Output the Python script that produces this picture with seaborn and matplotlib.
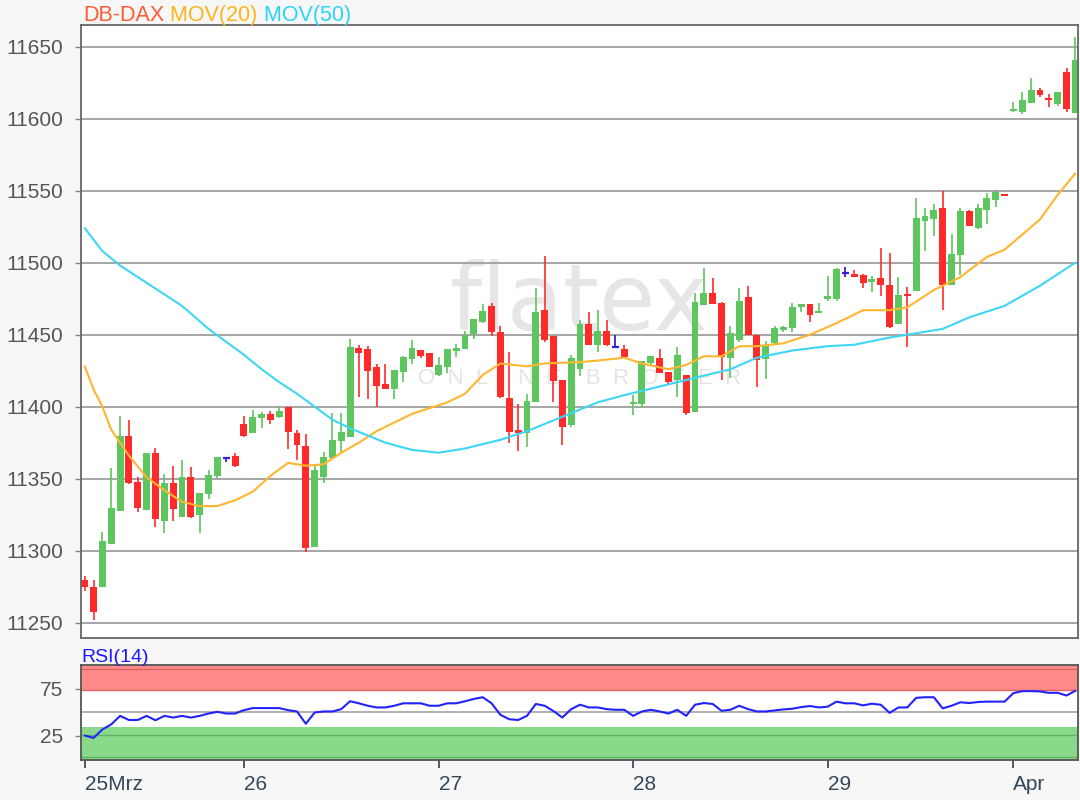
import numpy as np
import pandas as pd
import matplotlib
matplotlib.use('Agg')
import matplotlib.pyplot as plt
import seaborn as sns


###################################
# Data (one bar per entry, bar 0 = first bar on 25 Mar)
###################################
opens = [11279.6, 11275.0, 11274.5, 11305.0, 11327.5, 11379.6, 11347.9, 11328.2, 11368.1, 11320.8,
         11347.2, 11323.6, 11351.4, 11324.8, 11339.1, 11351.9, 11364.1, 11365.7, 11388.0, 11381.5,
         11392.0, 11395.0, 11392.6, 11399.5, 11381.5, 11372.7, 11302.4, 11351.4, 11364.2, 11376.2,
         11379.2, 11440.5, 11439.8, 11427.3, 11415.7, 11412.0, 11424.3, 11432.9, 11439.4, 11437.5,
         11422.0, 11427.8, 11438.9, 11439.8, 11450.5, 11459.0, 11469.9, 11452.1, 11405.8, 11383.8,
         11382.0, 11403.5, 11467.1, 11449.1, 11418.5, 11387.3, 11425.9, 11457.4, 11442.8, 11452.8,
         11441.7, 11439.8, 11401.6, 11401.9, 11430.1, 11433.6, 11424.3, 11418.5, 11422.0, 11396.5,
         11470.6, 11479.2, 11471.8, 11433.6, 11446.3, 11476.4, 11449.8, 11432.9, 11444.4, 11453.5,
         11454.4, 11469.0, 11471.3, 11465.3, 11474.5, 11474.5, 11493.0, 11492.1, 11491.4, 11486.8,
         11489.1, 11484.5, 11457.4, 11478.2, 11480.6, 11528.7, 11530.3, 11538.0, 11484.7, 11505.6,
         11535.6, 11524.3, 11536.8, 11543.8, 11547.7, 11605.1, 11604.6, 11611.1, 11619.7, 11613.9,
         11610.4, 11632.4, 11604.2]
highs = [11282.4, 11279.6, 11312.7, 11357.2, 11393.5, 11390.7, 11351.4, 11368.1, 11371.0, 11353.2,
         11358.8, 11363.0, 11358.3, 11340.3, 11356.0, 11365.3, 11364.3, 11367.6, 11393.8, 11397.7,
         11396.0, 11397.0, 11400.0, 11400.0, 11383.8, 11381.0, 11358.5, 11368.8, 11395.4, 11395.4,
         11446.8, 11442.8, 11442.1, 11429.6, 11429.6, 11425.5, 11435.2, 11446.3, 11439.4, 11437.5,
         11434.7, 11439.8, 11443.3, 11452.5, 11460.6, 11471.3, 11471.8, 11456.0, 11438.2, 11401.9,
         11408.8, 11482.2, 11504.6, 11449.1, 11418.5, 11435.9, 11460.2, 11466.0, 11467.1, 11460.2,
         11449.8, 11442.8, 11408.3, 11432.0, 11435.2, 11439.8, 11424.3, 11441.7, 11422.0, 11478.7,
         11496.1, 11489.1, 11472.9, 11456.0, 11482.2, 11483.8, 11449.8, 11445.8, 11456.0, 11456.0,
         11472.2, 11471.3, 11471.3, 11472.2, 11490.7, 11496.1, 11496.8, 11494.9, 11492.1, 11490.7,
         11510.0, 11507.0, 11490.3, 11483.3, 11544.7, 11538.0, 11541.0, 11549.5, 11520.1, 11538.0,
         11536.8, 11541.0, 11548.4, 11550.7, 11547.7, 11611.6, 11618.5, 11628.2, 11621.3, 11617.4,
         11618.5, 11635.2, 11656.9]
lows = [11272.2, 11251.9, 11274.5, 11305.0, 11327.5, 11346.3, 11327.1, 11328.2, 11316.2, 11312.5,
        11320.8, 11323.6, 11322.5, 11312.0, 11335.6, 11350.2, 11361.5, 11357.9, 11378.7, 11381.5,
        11385.0, 11388.0, 11392.0, 11370.4, 11363.0, 11299.3, 11302.4, 11346.8, 11364.2, 11367.6,
        11379.2, 11406.9, 11405.1, 11400.0, 11412.0, 11405.0, 11417.4, 11429.6, 11433.6, 11427.3,
        11421.3, 11423.1, 11434.3, 11439.8, 11446.8, 11458.3, 11449.1, 11405.8, 11375.0, 11369.4,
        11372.3, 11403.5, 11445.1, 11403.5, 11373.4, 11386.1, 11421.3, 11442.8, 11438.2, 11442.1,
        11441.7, 11434.3, 11394.4, 11398.8, 11429.0, 11423.1, 11415.7, 11406.9, 11394.2, 11396.5,
        11470.6, 11471.0, 11418.5, 11419.7, 11445.1, 11449.8, 11413.9, 11419.0, 11442.8, 11452.0,
        11452.1, 11466.0, 11459.0, 11464.8, 11473.6, 11473.6, 11489.8, 11490.3, 11482.2, 11479.9,
        11476.9, 11454.4, 11457.4, 11441.2, 11480.6, 11507.9, 11518.3, 11467.4, 11484.7, 11491.7,
        11525.2, 11523.6, 11526.6, 11538.4, 11546.1, 11604.6, 11603.5, 11611.1, 11615.0, 11608.1,
        11608.8, 11604.6, 11604.2]
closes = [11275.0, 11257.6, 11307.0, 11329.4, 11379.6, 11347.2, 11329.4, 11368.1, 11322.0, 11347.2,
          11328.7, 11351.4, 11323.6, 11340.3, 11352.5, 11365.3, 11364.1, 11358.8, 11379.6, 11393.0,
          11395.0, 11391.0, 11397.2, 11382.6, 11373.4, 11301.7, 11356.0, 11365.3, 11376.9, 11382.2,
          11441.7, 11437.0, 11425.0, 11414.4, 11412.0, 11425.5, 11434.3, 11440.5, 11435.2, 11427.8,
          11428.9, 11439.8, 11441.0, 11449.8, 11460.6, 11466.7, 11452.1, 11406.9, 11382.6, 11382.0,
          11404.2, 11466.0, 11446.3, 11418.1, 11386.1, 11433.6, 11457.4, 11442.8, 11452.8, 11442.8,
          11441.7, 11434.3, 11403.2, 11432.0, 11435.2, 11423.6, 11417.4, 11435.9, 11395.4, 11472.9,
          11478.7, 11471.0, 11434.7, 11451.4, 11473.6, 11449.8, 11432.4, 11442.8, 11454.4, 11455.0,
          11469.0, 11471.3, 11463.7, 11466.7, 11476.9, 11495.4, 11493.0, 11490.3, 11486.1, 11488.4,
          11484.5, 11455.6, 11477.5, 11476.9, 11530.8, 11532.2, 11536.8, 11484.7, 11506.2, 11535.6,
          11525.7, 11538.0, 11544.9, 11548.8, 11546.1, 11606.5, 11612.7, 11619.7, 11616.2, 11612.7,
          11618.5, 11606.9, 11640.5]

# moving averages, read at some bars
ma20_bar = [0, 1, 2, 3, 5, 7, 9, 11, 13, 15, 17, 19, 21, 23, 25, 27, 29, 31, 33, 37, 41, 43, 45, 47,
            50, 52, 56, 58, 61, 63, 66, 68, 70, 72, 74, 76, 79, 82, 85, 88, 91, 93, 96, 99, 102,
            104, 108, 110, 112]
ma20_val = [11428, 11412, 11400, 11384, 11366, 11351, 11342, 11334, 11331, 11331, 11335, 11341,
            11352, 11361, 11359, 11360, 11368, 11375, 11383, 11395, 11403, 11409, 11422, 11430,
            11428, 11430, 11431, 11432, 11434, 11430, 11426, 11429, 11435, 11435, 11442, 11442,
            11444, 11450, 11458, 11467, 11467, 11469, 11481, 11490, 11504, 11509, 11530, 11547,
            11562]
ma50_bar = [0, 2, 4, 7, 11, 14, 18, 20, 22, 24, 26, 28, 30, 32, 34, 37, 40, 43, 47, 50, 54, 58,
            61, 65, 69, 73, 76, 80, 84, 87, 91, 94, 97, 100, 104, 108, 112]
ma50_val = [11524, 11508, 11498, 11486, 11470, 11454, 11436, 11426, 11417, 11409, 11400, 11391,
            11385, 11380, 11375, 11370, 11368, 11371, 11377, 11383, 11393, 11403, 11408, 11414,
            11420, 11426, 11434, 11439, 11442, 11443, 11448, 11451, 11454, 11462, 11470, 11484,
            11500]

rsi_val = [25.0, 22.5, 31.5, 36.9, 46.0, 41.6, 41.6, 46.0, 41.3, 46.0, 44.2, 46.0, 44.2, 46.0,
           48.5, 50.3, 48.5, 48.5, 52.1, 54.3, 54.3, 54.3, 54.3, 52.1, 50.7, 37.6, 49.6, 50.7,
           50.7, 53.2, 61.6, 59.4, 56.8, 55.0, 55.0, 56.8, 59.4, 59.4, 59.4, 56.8, 56.8, 59.4,
           59.4, 61.6, 64.1, 65.9, 59.4, 47.1, 42.4, 41.6, 46.0, 58.7, 56.8, 51.1, 44.2, 53.2,
           57.9, 55.0, 55.0, 53.2, 52.5, 52.5, 46.0, 50.7, 52.5, 50.7, 48.5, 52.5, 46.0, 57.9,
           59.7, 58.7, 51.4, 52.5, 56.8, 53.2, 50.7, 50.7, 51.8, 52.9, 53.6, 55.4, 56.5, 55.0,
           55.8, 61.2, 59.4, 59.4, 57.2, 59.0, 57.9, 49.2, 55.0, 55.0, 65.2, 65.9, 65.9, 54.0,
           56.8, 60.5, 59.7, 60.8, 61.2, 61.2, 61.2, 70.3, 72.4, 72.4, 72.1, 70.6, 70.6, 67.7,
           72.8]

day_bars = [0, 18, 40, 62, 84, 105]
day_labels = ['25Mrz', '26', '27', '28', '29', 'Apr']
price_ticks = [11250, 11300, 11350, 11400, 11450, 11500, 11550, 11600, 11650]

GREEN = '#5ec65e'
RED = '#ff2b2b'
DOJI = '#3a1fd6'
ORANGE = '#ffb52e'
CYAN = '#3dd6f5'

###################################
# Style
###################################
sns.set_theme(style='white')
plt.rcParams['font.family'] = ['Liberation Sans', 'DejaVu Sans']

fig = plt.figure(figsize=(10.8, 8), dpi=100, facecolor='#f7f7f7')
ax = fig.add_axes([81 / 1080, 1 - 638 / 800, 997 / 1080, 613 / 800])
ax2 = fig.add_axes([81 / 1080, 1 - 760 / 800, 997 / 1080, 95 / 800], sharex=ax)

df = pd.DataFrame({'o': opens, 'h': highs, 'l': lows, 'c': closes})
df['bar'] = np.arange(len(df))

###################################
# Main chart: candles + moving averages
###################################
ax.set_facecolor('white')
ax.set_yticks(price_ticks)
ax.grid(axis='y', color='#9e9e9e', lw=1.3)
ax.set_axisbelow(True)

# watermark
ax.text(0.5, 0.545, 'flatex', transform=ax.transAxes, ha='center', va='center',
        fontsize=66, color='#e6e6e6', family='DejaVu Sans', zorder=0)
ax.text(0.5, 0.424, 'O  N  L  I  N  E    B  R  O  K  E  R', transform=ax.transAxes,
        ha='center', va='center', fontsize=16, color='#e4e4e4', zorder=0)

up = df[df.c > df.o]
dn = df[df.c < df.o]
dj = df[df.c == df.o]
for d, col in [(up, GREEN), (dn, RED)]:
    ax.vlines(d.bar, d.l, d.h, color=col, lw=1.2, zorder=2)
    ax.bar(d.bar, np.maximum((d.c - d.o).abs(), 1.3), bottom=np.minimum(d.o, d.c),
           width=0.78, color=col, lw=0, zorder=2)
ax.vlines(dj.bar, dj.l, dj.h, color=DOJI, lw=1.3, zorder=2)
ax.hlines(dj.o, dj.bar - 0.38, dj.bar + 0.38, color=DOJI, lw=1.6, zorder=2)

sns.lineplot(x=ma20_bar, y=ma20_val, ax=ax, color=ORANGE, lw=1.5, zorder=3)
sns.lineplot(x=ma50_bar, y=ma50_val, ax=ax, color=CYAN, lw=1.5, zorder=3)

ax.set_xlim(-0.42, 112.3)
ax.set_ylim(11239.4, 11665)
ax.set_xlabel('')
ax.set_ylabel('')
ax.tick_params(axis='x', bottom=False, labelbottom=False)
ax.tick_params(axis='y', left=True, length=4, width=1, color='#888888',
               labelsize=15, labelcolor='#555555', pad=9)
for s in ax.spines.values():
    s.set_color('#666666')
    s.set_linewidth(1.3)

# title made of three coloured parts
t1 = fig.text(83 / 1080, 1 - 21 / 800, 'DB-DAX', color='#ff5b37', fontsize=15.5, va='baseline')
t2 = fig.text(0, 0, ' MOV(20)', color='#ffb31a', fontsize=15.5, va='baseline')
t3 = fig.text(0, 0, ' MOV(50)', color='#29d4f8', fontsize=15.5, va='baseline')
fig.canvas.draw()
r = fig.canvas.get_renderer()
x = t1.get_window_extent(r).x1 / fig.bbox.width
t2.set_position((x, 1 - 21 / 800))
fig.canvas.draw()
x = t2.get_window_extent(r).x1 / fig.bbox.width
t3.set_position((x, 1 - 21 / 800))

###################################
# RSI panel
###################################
ax2.set_facecolor('white')
ax2.set_ylim(-1.1, 100.3)
ax2.axhspan(72.4, 100.3, color='#ff8a8a', lw=0, zorder=0)
ax2.axhspan(-1.1, 34.0, color='#8ad98a', lw=0, zorder=0)
ax2.axhline(96, color='#e06262', lw=1.0, zorder=1)
ax2.axhline(74, color='#e06262', lw=1.0, zorder=1)
ax2.axhline(26, color='#5fb35f', lw=1.0, zorder=1)
ax2.axhline(2.5, color='#5fb35f', lw=1.0, zorder=1)
ax2.axhline(50, color='#aaaaaa', lw=1.3, zorder=1)
sns.lineplot(x=df.bar, y=rsi_val, ax=ax2, color='#2222ff', lw=1.5, zorder=3)

ax2.set_yticks([25, 75])
ax2.set_xticks(day_bars)
ax2.set_xticklabels(day_labels)
for lbl in ax2.get_xticklabels():
    lbl.set_ha('left')
ax2.set_xlabel('')
ax2.set_ylabel('')
ax2.tick_params(axis='y', left=True, length=4, width=1, color='#888888',
                labelsize=15, labelcolor='#555555', pad=9)
ax2.tick_params(axis='x', bottom=True, length=6, width=1.3, color='#3b4d5e',
                labelsize=15, labelcolor='#34475a', pad=5)
for s in ax2.spines.values():
    s.set_color('#555555')
    s.set_linewidth(1.3)
ax2.set_xlim(-0.42, 112.3)

fig.text(81 / 1080, 1 - 662 / 800, 'RSI(14)', color='#1a1aff', fontsize=14, va='baseline')

plt.savefig('out.png', dpi=100, facecolor=fig.get_facecolor())
